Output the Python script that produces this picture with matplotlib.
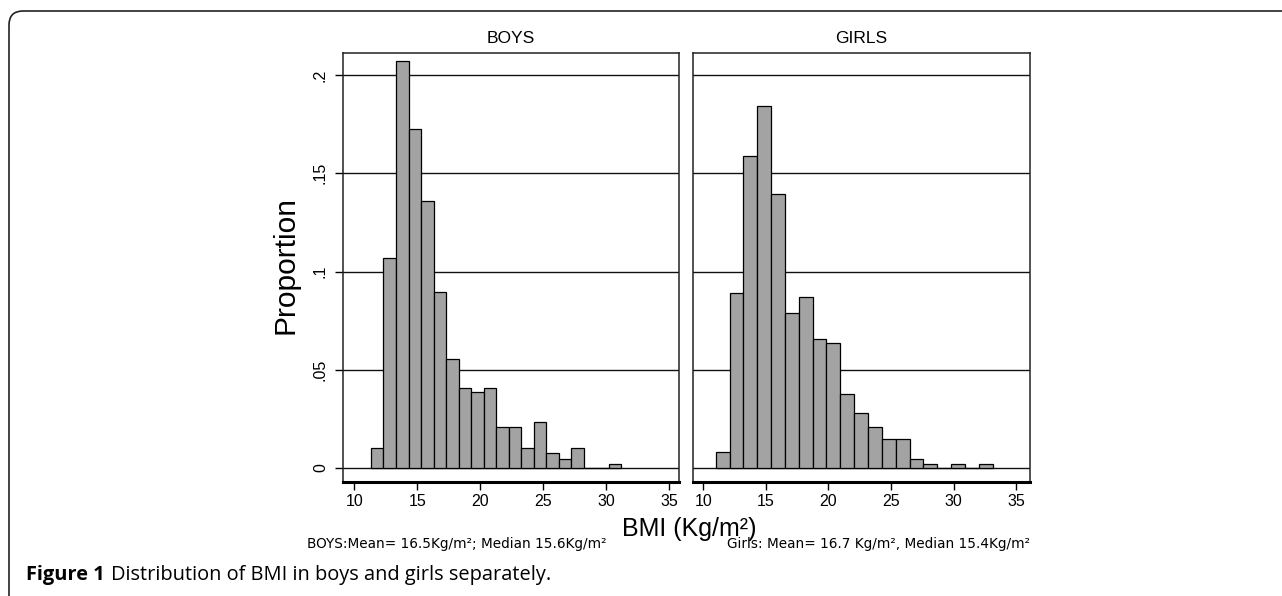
import matplotlib
matplotlib.use("Agg")
import matplotlib.pyplot as plt
from matplotlib.patches import FancyBboxPatch
import numpy as np

# histogram data (proportion per bin)
boys_start = 11.32
boys_width = 0.995
boys_prop = [0.0102, 0.107, 0.207, 0.1725, 0.136, 0.0898, 0.0556, 0.0407, 0.0385, 0.0407,
             0.0208, 0.0208, 0.0100, 0.0234, 0.0076, 0.0044, 0.0102, 0.0, 0.0, 0.002]

girls_start = 10.99
girls_width = 1.106
girls_prop = [0.0081, 0.089, 0.159, 0.184, 0.1395, 0.079, 0.0868, 0.0658, 0.0636, 0.0376,
              0.028, 0.021, 0.0149, 0.0149, 0.0046, 0.002, 0.0, 0.002, 0.0, 0.002]

x_ticks = [10, 15, 20, 25, 30, 35]
y_ticks = [0, 0.05, 0.1, 0.15, 0.2]
y_tick_labels = ["0", ".05", ".1", ".15", ".2"]

panel_titles = ["BOYS", "GIRLS"]
boys_note = "BOYS:Mean= 16.5Kg/m²; Median 15.6Kg/m²"
girls_note = "Girls: Mean= 16.7 Kg/m², Median 15.4Kg/m²"
caption_bold = "Figure 1"
caption_text = "Distribution of BMI in boys and girls separately."

W, H = 1282, 596
plt.rcParams["font.family"] = ["Liberation Sans", "DejaVu Sans"]

fig = plt.figure(figsize=(W / 100, H / 100), dpi=100)

# outer frame with rounded top-left corner
frame = FancyBboxPatch((9 / W, -0.2), 1.2, 0.2 + (1 - 11 / H),
                       boxstyle="round,pad=0,rounding_size=0.011",
                       mutation_aspect=W / H, transform=fig.transFigure,
                       facecolor="none", edgecolor="#222222", linewidth=1.2)
fig.add_artist(frame)


def draw_panel(rect, start, width, props, xlim, title, show_y):
    ax = fig.add_axes(rect)
    edges = start + width * np.arange(len(props))
    ax.bar(edges, props, width=width, align="edge", color="#a3a3a3",
           edgecolor="black", linewidth=0.9, zorder=3)
    ax.set_xlim(*xlim)
    ax.set_ylim(-0.00712, 0.2112)
    ax.set_yticks(y_ticks)
    ax.set_xticks(x_ticks)
    ax.yaxis.grid(True, color="#111111", linewidth=1.0)
    ax.set_axisbelow(True)
    for s in ["left", "right", "top"]:
        ax.spines[s].set_linewidth(1.1)
        ax.spines[s].set_color("#222222")
    ax.spines["bottom"].set_linewidth(2.2)
    ax.tick_params(axis="x", direction="out", length=5.8, width=1.0,
                   labelsize=11.5, pad=3)
    if show_y:
        ax.set_yticklabels(y_tick_labels, rotation=90, va="center")
        ax.tick_params(axis="y", direction="out", length=5.8, width=1.0,
                       labelsize=11.5, pad=5)
    else:
        ax.tick_params(axis="y", left=False, labelleft=False)
    fig.text(rect[0] + rect[2] / 2, 1 - 38.6 / H, title, ha="center",
             va="center", fontsize=12.5)
    return ax


ax_b = draw_panel([343 / W, 1 - 482 / H, 336 / W, 429 / H], boys_start,
                  boys_width, boys_prop, (9.10, 35.79), panel_titles[0], True)
ax_g = draw_panel([692.7 / W, 1 - 482 / H, 337.3 / W, 429 / H], girls_start,
                  girls_width, girls_prop, (9.15, 36.10), panel_titles[1], False)

fig.text(286 / W, 1 - 265 / H, "Proportion", rotation=90, ha="center",
         va="center", fontsize=21.5)
fig.text(689 / W, 1 - 529 / H, "BMI (Kg/m²)", ha="center", va="center",
         fontsize=18)
note_font = ["DejaVu Sans"]
fig.text(307 / W, 1 - 544 / H, boys_note, ha="left", va="center",
         fontsize=9.8, family=note_font)
fig.text(1030 / W, 1 - 544 / H, girls_note, ha="right", va="center",
         fontsize=9.8, family=note_font)

# caption: bold label followed by regular text
cap_font = ["Open Sans", "DejaVu Sans"]
cap1 = fig.text(26 / W, 1 - 575 / H, caption_bold, ha="left", va="center",
                fontsize=14.4, fontweight="bold", family=cap_font)
renderer = fig.canvas.get_renderer()
bb = cap1.get_window_extent(renderer)
fig.text((bb.x1 + 6) / W, 1 - 575 / H, caption_text, ha="left", va="center",
         fontsize=14.4, family=cap_font)

fig.savefig("out.png", dpi=100)
